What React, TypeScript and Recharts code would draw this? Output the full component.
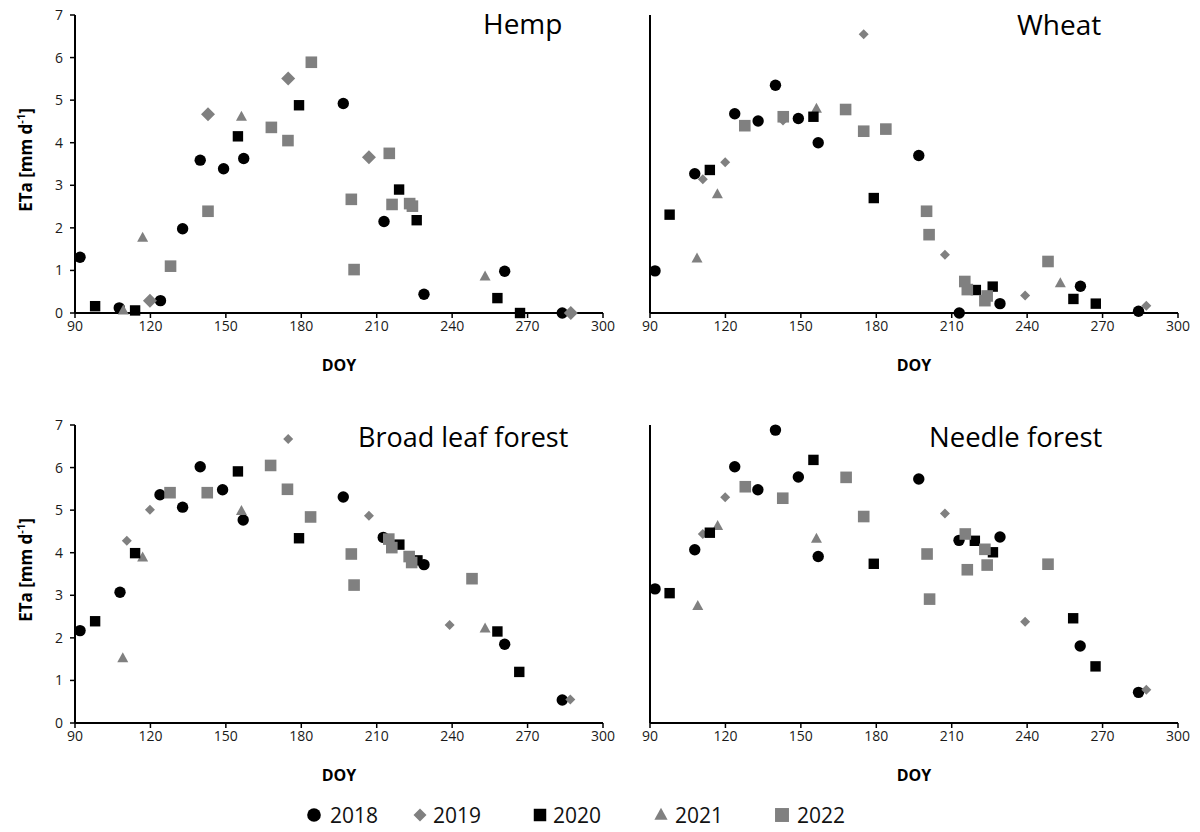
import React from 'react';
import { ScatterChart, Scatter, XAxis, YAxis } from 'recharts';

const doyTicks = [90, 120, 150, 180, 210, 240, 270, 300];
const etaTicks = [0, 1, 2, 3, 4, 5, 6, 7];
const years = ['2018', '2019', '2020', '2021', '2022'];

// [DOY, ETa] pairs
const hemp2018 = [[92, 1.31], [107.6, 0.12], [124, 0.29], [132.8, 1.98], [139.8, 3.59], [149.1, 3.39], [157.1, 3.63], [196.7, 4.92], [212.9, 2.15], [228.8, 0.44], [260.9, 0.98], [283.8, 0.0]];
const hemp2019 = [[119.8, 0.29], [142.9, 4.67], [174.8, 5.51], [206.9, 3.66], [287.2, 0.0]];
const hemp2020 = [[98, 0.16], [113.9, 0.06], [154.8, 4.15], [179.1, 4.88], [218.9, 2.9], [225.9, 2.18], [258, 0.35], [267, 0.0]];
const hemp2021 = [[109.2, 0.06], [116.9, 1.77], [156.2, 4.61], [253.1, 0.86]];
const hemp2022 = [[128, 1.1], [142.9, 2.39], [168.1, 4.36], [174.7, 4.05], [184, 5.89], [199.9, 2.67], [201, 1.02], [215, 3.75], [216.1, 2.55], [223.1, 2.57], [224.2, 2.51]];

const wheat2018 = [[92, 0.99], [107.8, 3.27], [123.7, 4.68], [133, 4.51], [139.9, 5.35], [149, 4.57], [156.9, 4.0], [196.9, 3.7], [213, 0.0], [229.2, 0.22], [261.2, 0.63], [284.3, 0.04]];
const wheat2019 = [[111, 3.14], [119.9, 3.54], [142.9, 4.52], [175, 6.55], [207.3, 1.37], [239.2, 0.41], [287.4, 0.17]];
const wheat2020 = [[97.8, 2.31], [113.8, 3.36], [155, 4.61], [179, 2.7], [219.6, 0.54], [226.3, 0.62], [258.4, 0.33], [267.3, 0.22]];
const wheat2021 = [[108.7, 1.28], [116.8, 2.79], [156.2, 4.8], [253.2, 0.7]];
const wheat2022 = [[127.7, 4.4], [143, 4.61], [167.8, 4.78], [175, 4.27], [183.8, 4.32], [200, 2.39], [201, 1.84], [215.2, 0.74], [216.2, 0.55], [223.2, 0.29], [224.1, 0.4], [248.3, 1.21]];

const broad2018 = [[92, 2.17], [107.9, 3.07], [123.8, 5.36], [132.8, 5.07], [139.8, 6.02], [148.7, 5.48], [156.9, 4.77], [196.7, 5.31], [212.6, 4.36], [228.8, 3.72], [260.9, 1.85], [283.8, 0.54]];
const broad2019 = [[110.6, 4.28], [119.8, 5.01], [174.8, 6.67], [206.9, 4.87], [239, 2.3], [287, 0.55]];
const broad2020 = [[98, 2.39], [113.9, 3.99], [154.8, 5.91], [179.1, 4.34], [219, 4.19], [226.2, 3.82], [258, 2.15], [266.7, 1.2]];
const broad2021 = [[109, 1.52], [116.9, 3.89], [156.2, 4.98], [253.1, 2.22]];
const broad2022 = [[127.8, 5.41], [142.6, 5.41], [167.8, 6.05], [174.5, 5.49], [183.7, 4.84], [199.9, 3.97], [201, 3.24], [214.8, 4.32], [216, 4.12], [222.9, 3.91], [223.9, 3.77], [247.9, 3.39]];

const needle2018 = [[92, 3.15], [107.8, 4.07], [123.7, 6.02], [132.9, 5.48], [139.9, 6.88], [149, 5.78], [156.9, 3.91], [196.9, 5.73], [212.9, 4.29], [229.2, 4.37], [261.1, 1.81], [284.3, 0.72]];
const needle2019 = [[111, 4.44], [119.9, 5.3], [207.3, 4.92], [239.2, 2.38], [287.4, 0.78]];
const needle2020 = [[97.8, 3.05], [113.8, 4.47], [155, 6.18], [179, 3.74], [219.2, 4.28], [226.4, 4.01], [258.3, 2.46], [267.2, 1.33]];
const needle2021 = [[109, 2.75], [116.9, 4.63], [156.2, 4.33]];
const needle2022 = [[127.9, 5.55], [142.8, 5.28], [168, 5.77], [175, 4.85], [200.2, 3.97], [201.2, 2.91], [215.4, 4.44], [216.2, 3.6], [223.2, 4.08], [224.1, 3.71], [248.3, 3.73]];

const BLACK = '#000000';
const GRAY = '#808080';
const FONT = '"Open Sans", "Noto Sans", sans-serif';

type Kind = 'circle' | 'diamond' | 'square' | 'triangle' | 'bigsquare';

function Marker({ kind, cx, cy, dsize = 5, k = 1 }: { kind: Kind; cx: number; cy: number; dsize?: number; k?: number }) {
  if (cx == null || cy == null) return null;
  switch (kind) {
    case 'circle':
      return <circle cx={cx} cy={cy} r={5.7 * k} fill={BLACK} />;
    case 'diamond':
      return (
        <polygon
          points={`${cx},${cy - dsize} ${cx + dsize},${cy} ${cx},${cy + dsize} ${cx - dsize},${cy}`}
          fill={GRAY}
        />
      );
    case 'square': {
      const h = 5.2 * k;
      return <rect x={cx - h} y={cy - h} width={2 * h} height={2 * h} fill={BLACK} />;
    }
    case 'triangle':
      return <polygon points={`${cx},${cy - 6 * k} ${cx + 5.5 * k},${cy + 4 * k} ${cx - 5.5 * k},${cy + 4 * k}`} fill={GRAY} />;
    default: {
      const h = 5.8 * k;
      return <rect x={cx - h} y={cy - h} width={2 * h} height={2 * h} fill={GRAY} />;
    }
  }
}

const toPts = (arr: number[][]) => arr.map(([x, y]) => ({ x, y }));

interface PanelProps {
  left: number;
  top: number;
  width: number;
  yWidth: number;
  series: number[][][];
  showYLabels: boolean;
  diamond: number;
}

// drawing order: 2018, 2019, 2021, 2020, 2022
const order = [0, 1, 3, 2, 4];
const kinds: Kind[] = ['circle', 'diamond', 'square', 'triangle', 'bigsquare'];

function Panel({ left, top, width, yWidth, series, showYLabels, diamond }: PanelProps) {
  return (
    <div style={{ position: 'absolute', left, top }}>
      <ScatterChart width={width} height={385} margin={{ top: 15, right: 22, bottom: 0, left: 0 }}>
        <XAxis
          type="number"
          dataKey="x"
          domain={[90, 300]}
          ticks={doyTicks}
          height={72}
          axisLine={{ stroke: '#000', strokeWidth: 2 }}
          tickLine={{ stroke: '#000', strokeWidth: 1.5 }}
          tickSize={5}
          tickMargin={3}
          tick={{ fill: '#1a1a1a', fontSize: 14, fontFamily: FONT }}
          label={{
            value: 'DOY',
            position: 'insideBottom',
            offset: 14,
            style: { fill: '#000', fontSize: 16, fontWeight: 700, fontFamily: FONT },
          }}
        />
        <YAxis
          type="number"
          dataKey="y"
          domain={[0, 7]}
          ticks={etaTicks}
          width={yWidth}
          axisLine={{ stroke: '#000', strokeWidth: 2 }}
          tickLine={{ stroke: '#000', strokeWidth: 1.5 }}
          tickSize={5}
          tickMargin={7}
          tick={showYLabels ? { fill: '#1a1a1a', fontSize: 14, fontFamily: FONT } : false}
        />
        {order.map((i) => (
          <Scatter
            key={years[i]}
            name={years[i]}
            data={toPts(series[i])}
            isAnimationActive={false}
            shape={(p: any) => <Marker kind={kinds[i]} cx={p.cx} cy={p.cy} dsize={diamond} />}
          />
        ))}
      </ScatterChart>
    </div>
  );
}

const legendItems = [
  { kind: 'circle' as Kind, x: 314, tx: 330 },
  { kind: 'diamond' as Kind, x: 420, tx: 433 },
  { kind: 'square' as Kind, x: 540, tx: 553 },
  { kind: 'triangle' as Kind, x: 661, tx: 675 },
  { kind: 'bigsquare' as Kind, x: 782, tx: 797 },
];

export default function App() {
  return (
    <div style={{ position: 'absolute', left: 0, top: 0, width: 1200, height: 832, background: '#fff', overflow: 'hidden' }}>
      <Panel left={0} top={0} width={625} yWidth={75} series={[hemp2018, hemp2019, hemp2020, hemp2021, hemp2022]} showYLabels diamond={7} />
      <Panel left={590} top={0} width={610} yWidth={60} series={[wheat2018, wheat2019, wheat2020, wheat2021, wheat2022]} showYLabels={false} diamond={5} />
      <Panel left={0} top={410} width={625} yWidth={75} series={[broad2018, broad2019, broad2020, broad2021, broad2022]} showYLabels diamond={5} />
      <Panel left={590} top={410} width={610} yWidth={60} series={[needle2018, needle2019, needle2020, needle2021, needle2022]} showYLabels={false} diamond={5} />
      <svg width={1200} height={832} style={{ position: 'absolute', left: 0, top: 0, pointerEvents: 'none' }}>
        <g fontFamily={FONT} fill="#000">
          <text x={483} y={34} fontSize={28}>Hemp</text>
          <text x={1017} y={35} fontSize={28}>Wheat</text>
          <text x={358} y={447} fontSize={27}>Broad leaf forest</text>
          <text x={929} y={447} fontSize={27.5}>Needle forest</text>
          {[160, 570].map((cy) => (
            <text key={cy} transform={`translate(32, ${cy}) rotate(-90)`} textAnchor="middle" fontSize={17} fontWeight={700}>
              ETa [mm d<tspan fontSize={11} dy={-7}>-1</tspan><tspan dy={7}>]</tspan>
            </text>
          ))}
          {legendItems.map((it, i) => (
            <g key={years[i]}>
              <Marker kind={it.kind} cx={it.x} cy={815} dsize={6.5} k={1.2} />
              <text x={it.tx} y={823} fontSize={21} fill="#111">{years[i]}</text>
            </g>
          ))}
        </g>
      </svg>
    </div>
  );
}
